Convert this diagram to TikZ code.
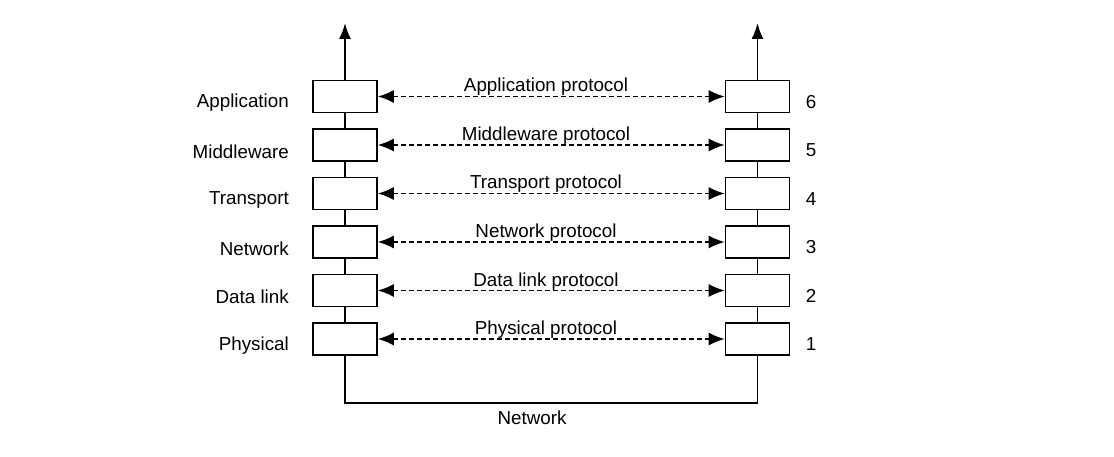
\documentclass[tikz,border=0pt]{standalone}
\usepackage{fontspec}
\setmainfont{Liberation Sans}
\usetikzlibrary{arrows.meta}
\begin{document}
\begin{tikzpicture}[x=1pt,y=-1pt,
  layer/.style={draw,line width=1.8pt,minimum width=64pt,minimum height=32pt,inner sep=0pt},
  stack/.style={line width=1.8pt},
  proto/.style={line width=1.3pt,dash pattern=on 5pt off 3pt,
     {Latex[length=16pt,width=13pt]}-{Latex[length=16pt,width=13pt]}},
  lbl/.style={font=\fontsize{18.8}{20}\selectfont,inner sep=0pt},
  up/.style={line width=1.8pt,-{Latex[length=16pt,width=12pt]}}]
\useasboundingbox (0,0) rectangle (1114,457);
\foreach \i/\name/\num/\pr [count=\k from 0] in {a/Application/6/Application protocol,
   m/Middleware/5/Middleware protocol, t/Transport/4/Transport protocol,
   n/Network/3/Network protocol, d/Data link/2/Data link protocol,
   p/Physical/1/Physical protocol}{
  \node[layer] (L\i) at (345,{96.5+48.5*\k}) {};
  \node[layer] (R\i) at (757.5,{96.5+48.5*\k}) {};
  \node[lbl,anchor=east] (T\i) at (289,{103+48.5*\k}) {\name};
  \node[lbl] (N\i) at (811,{102+48.5*\k}) {\num};
  \draw[proto] (L\i.east) -- (R\i.west);
  \node[lbl,anchor=base] (P\i) at (546,{92+48.5*\k}) {\pr};
}
\coordinate (topL) at (345,23);
\coordinate (topR) at (757.5,23);
\draw[up] (La.north) -- (topL);
\draw[up] (Ra.north) -- (topR);
\foreach \a/\b in {a/m,m/t,t/n,n/d,d/p}{
  \draw[stack] (L\a.south) -- (L\b.north);
  \draw[stack] (R\a.south) -- (R\b.north);
}
\draw[stack] (Lp.south) |- (551,403) -| (Rp.south);
\node[lbl] (net) at (532,418) {Network};
\end{tikzpicture}
\end{document}
